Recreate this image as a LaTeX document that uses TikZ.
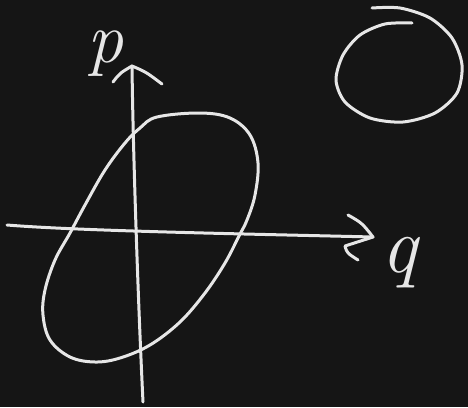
\documentclass[tikz,border=0pt]{standalone}
\begin{document}
\begin{tikzpicture}[x=1pt,y=-1pt,
  chalk/.style={draw=chalkc, line width=3pt, line cap=round, line join=round},
  lbl/.style={text=chalkc, font=\fontsize{80}{80}\selectfont\itshape, inner sep=0pt}]
\definecolor{chalkc}{HTML}{E6E6E6}
\definecolor{board}{HTML}{151515}
\fill[board] (0,0) rectangle (468,407);
\useasboundingbox (0,0) rectangle (468,407);
% axes coordinates
\coordinate (pbot) at (143,402);
\coordinate (ptop) at (132,66);
\coordinate (qleft) at (7,225);
\coordinate (qright) at (373,237);
% vertical axis
\draw[chalk] (pbot) .. controls (138,300) and (133,150) .. (ptop);
\draw[chalk] (113,82) .. controls (120,73) .. (ptop) .. controls (146,72) .. (162,84);
% horizontal axis
\draw[chalk] (qleft) .. controls (80,231) and (250,234) .. (qright);
\draw[chalk] (348,215) .. controls (362,223) .. (qright) -- (345,246) .. controls (347,253) .. (358,260);
% tilted closed curve
\draw[chalk] plot[smooth cycle, tension=0.6] coordinates {(157,117) (200,113) (230,118) (250,135) (258,163) (255,195) (247,220) (239,236) (225,263) (205,293) (180,322) (150,345) (120,358) (95,362) (70,357) (50,340) (43,315) (45,290) (55,260) (70,233) (85,205) (105,170) (125,143) (140,128)};
% circle top right
\draw[chalk] plot[smooth] coordinates {(412,23) (385,24) (360,35) (343,55) (336,80) (345,102) (370,118) (403,122) (435,113) (457,93) (462,65) (452,38) (430,18) (400,8) (372,8)};
% labels
\node[lbl, font=\fontsize{72}{72}\selectfont\itshape] (p) at (105,54) {p};
\node[lbl] (q) at (399,263) {q};
\end{tikzpicture}
\end{document}
